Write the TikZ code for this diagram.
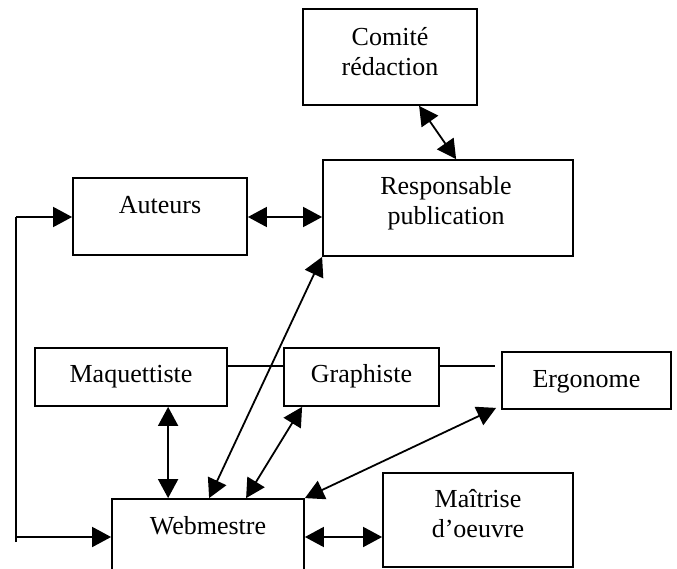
\documentclass[tikz,border=0pt]{standalone}
\usepackage{fontspec}
\setmainfont{Liberation Serif}
\usetikzlibrary{arrows.meta,calc}
\tikzset{
  box/.style={draw, line width=1.8pt, inner sep=0pt, rectangle},
  lbl/.style={font=\fontsize{26}{30}\selectfont, inner sep=0pt, align=center, anchor=base},
  link/.style={line width=1.8pt},
  dbl/.style={link, {Triangle[length=19pt,width=20pt]}-{Triangle[length=19pt,width=20pt]}},
  one/.style={link, -{Triangle[length=19pt,width=20pt]}}
}
\begin{document}
\begin{tikzpicture}[x=1pt,y=-1pt]
\useasboundingbox (0,0) rectangle (677,569);
\clip (0,0) rectangle (677,569);
% boxes
\node[box, minimum width=174pt, minimum height=96pt] (com) at (390,57) {};
\node[box, minimum width=250pt, minimum height=96pt] (resp) at (448,208) {};
\node[box, minimum width=174pt, minimum height=77pt] (aut) at (160,216.5) {};
\node[box, minimum width=192pt, minimum height=58pt] (maq) at (131,377) {};
\node[box, minimum width=155pt, minimum height=58pt] (gra) at (361.5,377) {};
\node[box, minimum width=169pt, minimum height=57pt] (erg) at (586.5,380.5) {};
\node[box, minimum width=192pt, minimum height=111pt] (web) at (208,554.5) {};
\node[box, minimum width=190pt, minimum height=94pt] (mai) at (478,520) {};
% labels
\node[lbl] (tcom) at ($(com.north)+(0,67)$) {Comité\\rédaction};
\node[lbl] (tresp) at ($(resp.north)+(-2,65)$) {Responsable\\publication};
\node[lbl] (taut) at ($(aut.north)+(0,36)$) {Auteurs};
\node[lbl] (tmaq) at ($(maq.north)+(0,35)$) {Maquettiste};
\node[lbl] (tgra) at ($(gra.north)+(0,35)$) {Graphiste};
\node[lbl] (terg) at ($(erg.north)+(0,36)$) {Ergonome};
\node[lbl] (tweb) at ($(web.north)+(0,36)$) {Webmestre};
\node[lbl] (tmai) at ($(mai.north)+(0,65)$) {Maîtrise\\d’oeuvre};
% helper coordinates
\coordinate (c1) at (16,217);
\coordinate (c2) at (16,542);
\coordinate (c3) at (16,537);
\coordinate (g1) at ($(gra.east)+(0,-11)$);
\coordinate (g2) at (495,366);
% connectors
\draw[dbl] ($(com.south west)+(117,0)$) -- ($(resp.north west)+(134,0)$);
\draw[dbl] (aut.east |- c1) -- (resp.west |- c1);
\draw[dbl] (resp.south west) -- ($(web.north west)+(98,0)$);
\draw[dbl] ($(maq.south west)+(134,0)$) -- ($(web.north west)+(57,0)$);
\draw[dbl] ($(gra.south west)+(19,0)$) -- ($(web.north west)+(135,0)$);
\draw[dbl] ($(erg.south west)+(-5,-2)$) -- (web.north east);
\draw[dbl] (web.east |- c3) -- (mai.west |- c3);
\draw[link] (maq.east |- g1) -- (gra.west |- g1);
\draw[link] (g1) -- (g2);
\draw[link] (c2) -- (c1);
\draw[one] (c1) -- (aut.west |- c1);
\draw[one] (c3) -- (web.west |- c3);
\end{tikzpicture}
\end{document}
